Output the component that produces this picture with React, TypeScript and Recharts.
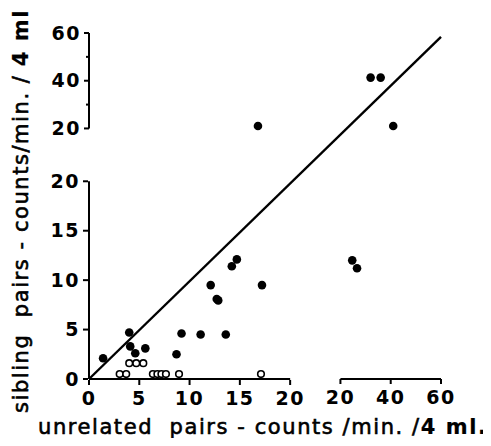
import { Label, ReferenceLine, Scatter, ScatterChart, XAxis, YAxis } from "recharts";

// each axis is broken at 20: a linear part 0-20, then a compressed part 20-60
const LOWER_TICKS = [0, 5, 10, 15, 20];
const UPPER_X_TICKS = [20, 40, 60];
const UPPER_Y_TICKS = [20, 30, 40, 50, 60];
const UPPER_Y_LABELS = [20, 40, 60];

// "lo" axes carry the 0-20 part; "hi" axes are aligned so 20..60 fills the space after the break
const LO_DOMAIN = [0, 35];
const HI_X_DOMAIN = [-80, 60];
const HI_Y_DOMAIN = [-85, 60];

// both counts below 20
const sibFilled = [
  { x: 1.4, y: 2.1 },
  { x: 4.0, y: 4.7 },
  { x: 4.1, y: 3.3 },
  { x: 4.6, y: 2.6 },
  { x: 5.6, y: 3.1 },
  { x: 8.7, y: 2.5 },
  { x: 9.2, y: 4.6 },
  { x: 11.1, y: 4.5 },
  { x: 13.6, y: 4.5 },
  { x: 12.1, y: 9.5 },
  { x: 12.7, y: 8.1 },
  { x: 12.85, y: 7.95 },
  { x: 14.2, y: 11.4 },
  { x: 14.7, y: 12.1 },
  { x: 17.2, y: 9.5 },
];

const sibOpen = [
  { x: 4.0, y: 1.6 },
  { x: 4.7, y: 1.6 },
  { x: 5.4, y: 1.6 },
  { x: 3.05, y: 0.5 },
  { x: 3.7, y: 0.5 },
  { x: 6.35, y: 0.5 },
  { x: 6.8, y: 0.5 },
  { x: 7.2, y: 0.5 },
  { x: 7.65, y: 0.5 },
  { x: 8.95, y: 0.5 },
  { x: 17.1, y: 0.5 },
];

// unrelated < 20, sibling > 20
const highSibling = [{ x: 16.8, y: 21 }];
// both > 20
const bothHigh = [
  { x: 32, y: 41.3 },
  { x: 36, y: 41.3 },
  { x: 41, y: 21 },
];
// unrelated > 20, sibling < 20
const highUnrelated = [
  { x: 24.7, y: 12 },
  { x: 26.6, y: 11.2 },
];

// line of equality, in lower-axis units (runs to the top right corner)
const diagonal = [
  { x: 0, y: 0 },
  { x: 35, y: 34.6 },
];

const FONT = "'DejaVu Sans', Verdana, sans-serif";
const TICK_SIZE = 5;
const TICK_MARGIN = 3;
const tickStyle = {
  fill: "#000",
  fontSize: 19,
  fontWeight: 700,
  fontFamily: FONT,
  letterSpacing: 1.5,
};
const ink = { stroke: "#000", strokeWidth: 2 };

const Dot = (props: any) => <circle cx={props.cx} cy={props.cy} r={4.3} fill="#000" />;
const Ring = (props: any) => (
  <circle cx={props.cx} cy={props.cy} r={3.3} fill="#fff" stroke="#000" strokeWidth={1.6} />
);

function UpperYTick(props: any) {
  const { x, y, payload } = props;
  const axisX = x + TICK_SIZE + TICK_MARGIN;
  const labelled = UPPER_Y_LABELS.includes(payload.value);
  return (
    <g>
      <line x1={axisX - (labelled ? TICK_SIZE : 3)} x2={axisX} y1={y} y2={y} {...ink} />
      {labelled && (
        <text x={x} y={y} dy="0.355em" textAnchor="end" {...tickStyle}>
          {payload.value}
        </text>
      )}
    </g>
  );
}

const titleProps = {
  fontFamily: FONT,
  fontSize: 21,
  fill: "#000",
  stroke: "#000",
  strokeWidth: 0.6,
  lengthAdjust: "spacing",
  style: { whiteSpace: "pre" as const },
};

const XTitle = () => (
  <text x={38} y={434} textLength={448} {...titleProps}>
    {"unrelated  pairs - counts /min. /"}
    <tspan fontWeight={700} strokeWidth={0.2}>4 ml.</tspan>
  </text>
);

const YTitle = () => (
  <text x={28} y={413} transform="rotate(-90, 28, 413)" textLength={412} {...titleProps}>
    {"sibling  pairs - counts/min. / "}
    <tspan fontWeight={700} strokeWidth={0.2}>4 ml.</tspan>
  </text>
);

export default function App() {
  return (
    <div style={{ margin: -8, background: "#fff" }}>
      <ScatterChart width={491} height={446} margin={{ top: 33, right: 50, bottom: 65, left: 87 }}>
        <XAxis
          xAxisId="lo"
          type="number"
          dataKey="x"
          domain={LO_DOMAIN}
          ticks={LOWER_TICKS}
          interval={0}
          height={1}
          axisLine={false}
          tickLine={ink}
          tickSize={TICK_SIZE}
          tickMargin={7}
          tick={tickStyle}
        >
          <Label content={XTitle} />
        </XAxis>
        <XAxis
          xAxisId="hi"
          type="number"
          dataKey="x"
          domain={HI_X_DOMAIN}
          ticks={UPPER_X_TICKS}
          interval={0}
          height={1}
          axisLine={false}
          tickLine={ink}
          tickSize={TICK_SIZE}
          tickMargin={7}
          tick={tickStyle}
        />
        <YAxis
          yAxisId="lo"
          type="number"
          dataKey="y"
          domain={LO_DOMAIN}
          ticks={LOWER_TICKS}
          interval={0}
          width={1}
          axisLine={false}
          tickLine={ink}
          tickSize={TICK_SIZE}
          tickMargin={TICK_MARGIN}
          tick={tickStyle}
        >
          <Label content={YTitle} />
        </YAxis>
        <YAxis
          yAxisId="hi"
          type="number"
          dataKey="y"
          domain={HI_Y_DOMAIN}
          ticks={UPPER_Y_TICKS}
          interval={0}
          width={1}
          axisLine={false}
          tickLine={false}
          tickSize={TICK_SIZE}
          tickMargin={TICK_MARGIN}
          tick={UpperYTick}
        />

        {/* broken axis lines */}
        <ReferenceLine xAxisId="lo" yAxisId="lo" segment={[{ x: 0, y: 0 }, { x: 20, y: 0 }]} {...ink} />
        <ReferenceLine xAxisId="hi" yAxisId="lo" segment={[{ x: 20, y: 0 }, { x: 60, y: 0 }]} {...ink} />
        <ReferenceLine xAxisId="lo" yAxisId="lo" segment={[{ x: 0, y: 0 }, { x: 0, y: 20 }]} {...ink} />
        <ReferenceLine xAxisId="lo" yAxisId="hi" segment={[{ x: 0, y: 20 }, { x: 0, y: 60 }]} {...ink} />

        <ReferenceLine xAxisId="lo" yAxisId="lo" segment={diagonal} stroke="#000" strokeWidth={2.4} />

        <Scatter data={sibFilled} xAxisId="lo" yAxisId="lo" shape={Dot} isAnimationActive={false} />
        <Scatter data={highSibling} xAxisId="lo" yAxisId="hi" shape={Dot} isAnimationActive={false} />
        <Scatter data={bothHigh} xAxisId="hi" yAxisId="hi" shape={Dot} isAnimationActive={false} />
        <Scatter data={highUnrelated} xAxisId="hi" yAxisId="lo" shape={Dot} isAnimationActive={false} />
        <Scatter data={sibOpen} xAxisId="lo" yAxisId="lo" shape={Ring} isAnimationActive={false} />
      </ScatterChart>
    </div>
  );
}
